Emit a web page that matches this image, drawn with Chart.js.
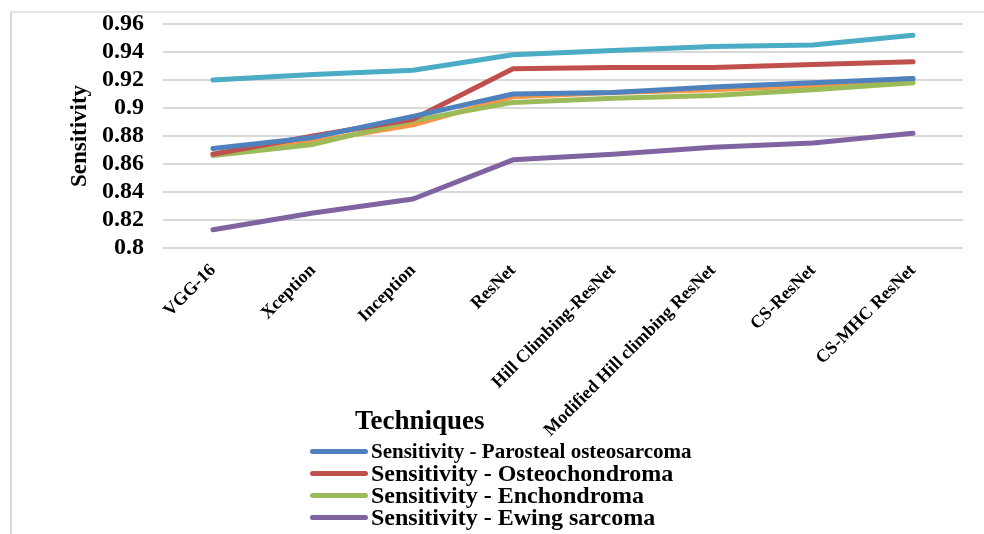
<!DOCTYPE html>
<html>
<head>
<meta charset="utf-8">
<script src="https://cdn.jsdelivr.net/npm/chart.js@4/dist/chart.umd.min.js"></script>
<style>
  html, body { margin: 0; padding: 0; background: #fff; }
  #wrap { position: relative; width: 984px; height: 534px; }
  #frame { position: absolute; left: 10px; top: 11px; width: 990px; height: 600px; border-left: 2px solid #d9d9d9; border-top: 2px solid #e6e6e6; }
  #xtitle { position: absolute; left: 355px; top: 405px; font: bold 27px "Liberation Serif", serif; color: #000; }
  #legend { position: absolute; left: 310px; top: 440px; font-family: "Liberation Serif", serif; font-weight: bold; color: #000; }
  .item { display: flex; align-items: center; height: 22px; white-space: nowrap; }
  .swatch { width: 58px; height: 5px; border-radius: 3px; margin-right: 3px; }
</style>
</head>
<body>
<div id="wrap">
  <div id="frame"></div>
  <canvas id="myChart" width="984" height="534"></canvas>
  <div id="xtitle">Techniques</div>
  <div id="legend"></div>
</div>
<script>
// categories on the x axis
const techniques = ["VGG-16", "Xception", "Inception", "ResNet", "Hill Climbing-ResNet", "Modified Hill climbing ResNet", "CS-ResNet", "CS-MHC ResNet"];

// y axis ticks
const yTicks = [0.8, 0.82, 0.84, 0.86, 0.88, 0.9, 0.92, 0.94, 0.96];

// sensitivity values
const parosteal     = [0.871, 0.879, 0.894, 0.910, 0.911, 0.915, 0.918, 0.921];
const osteochondroma = [0.867, 0.880, 0.892, 0.928, 0.929, 0.929, 0.931, 0.933];
const enchondroma   = [0.866, 0.874, 0.891, 0.904, 0.907, 0.909, 0.913, 0.918];
const ewing         = [0.813, 0.825, 0.835, 0.863, 0.867, 0.872, 0.875, 0.882];
// two more series drawn in the plot but not listed in the legend
const seriesCyan    = [0.920, 0.924, 0.927, 0.938, 0.941, 0.944, 0.945, 0.952];
const seriesOrange  = [0.867, 0.876, 0.888, 0.908, 0.911, 0.913, 0.916, 0.921];

function line(label, data, color, inLegend) {
  return {
    label: label,
    data: data,
    borderColor: color,
    backgroundColor: color,
    borderWidth: 5,
    pointRadius: 0,
    tension: 0,
    borderCapStyle: 'round',
    borderJoinStyle: 'round',
    inLegend: inLegend
  };
}

const datasets = [
  line("Sensitivity - Parosteal osteosarcoma", parosteal, "#4F81BD", true),
  line("Sensitivity - Osteochondroma", osteochondroma, "#C0504D", true),
  line("Sensitivity - Enchondroma", enchondroma, "#9BBB59", true),
  line("Sensitivity - Ewing sarcoma", ewing, "#8064A2", true),
  line("Sensitivity", seriesCyan, "#4BACC6", false),
  line("Sensitivity", seriesOrange, "#F79646", false)
];

const myChart = new Chart(document.getElementById("myChart"), {
  type: 'line',
  data: { labels: techniques, datasets: datasets },
  options: {
    responsive: false,
    animation: false,
    layout: { padding: { left: 12, right: 21, top: 24, bottom: 0 } },
    plugins: { legend: { display: false }, tooltip: { enabled: false } },
    scales: {
      x: {
        offset: true,
        grid: { display: false },
        border: { display: false },
        ticks: {
          color: '#000',
          maxRotation: 45,
          minRotation: 45,
          padding: 4,
          font: { family: 'Liberation Serif', weight: 'bold', size: 18 }
        },
        afterFit: function (scale) { scale.height = 286; }
      },
      y: {
        min: 0.8,
        max: 0.96,
        afterBuildTicks: function (scale) { scale.ticks = yTicks.map(v => ({ value: v })); },
        grid: { color: '#d9d9d9', lineWidth: 2, drawTicks: false },
        border: { display: false },
        ticks: {
          color: '#000',
          padding: 19,
          autoSkip: false,
          font: { family: 'Liberation Serif', weight: 'bold', size: 24 },
          callback: function (v) { return String(Number(v.toFixed(2))); }
        },
        title: {
          display: true,
          text: 'Sensitivity',
          color: '#000',
          padding: { top: 54, bottom: 0 },
          font: { family: 'Liberation Serif', weight: 'bold', size: 23 }
        },
        afterFit: function (scale) {
          scale.width = 151;
          scale.paddingTop = 0;
          scale.paddingBottom = 0;
        }
      }
    }
  }
});

// legend below the axis title, one entry per row
const legendEl = document.getElementById("legend");
datasets.filter(d => d.inLegend).forEach((d, i) => {
  const row = document.createElement("div");
  row.className = "item";
  row.style.fontSize = i === 0 ? "21px" : "24px";
  row.innerHTML = '<span class="swatch" style="background:' + d.borderColor + '"></span><span>' + d.label + '</span>';
  legendEl.appendChild(row);
});
</script>
</body>
</html>
